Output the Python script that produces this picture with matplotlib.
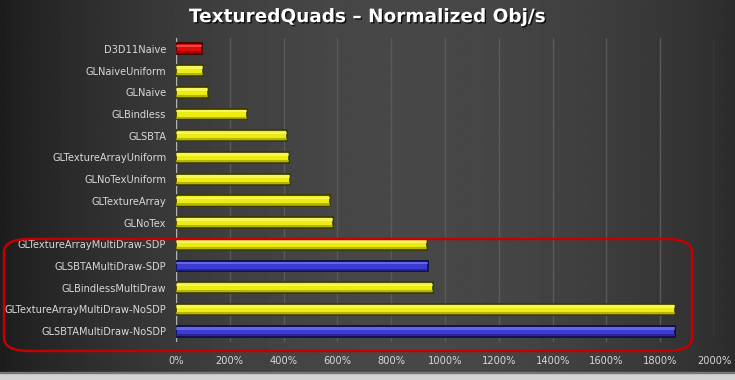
import matplotlib.pyplot as plt
import matplotlib.patheffects as pe
from matplotlib.patches import FancyBboxPatch
import numpy as np

names = ["D3D11Naive", "GLNaiveUniform", "GLNaive", "GLBindless", "GLSBTA",
         "GLTextureArrayUniform", "GLNoTexUniform", "GLTextureArray", "GLNoTex",
         "GLTextureArrayMultiDraw-SDP", "GLSBTAMultiDraw-SDP", "GLBindlessMultiDraw",
         "GLTextureArrayMultiDraw-NoSDP", "GLSBTAMultiDraw-NoSDP"]
values = [98, 100, 119, 264, 413, 420, 424, 572, 584, 933, 937, 955, 1855, 1855]
kinds = ["d3d", "gl", "gl", "gl", "gl", "gl", "gl", "gl", "gl",
         "gl", "sbta", "gl", "gl", "sbta"]
xticks = [0, 200, 400, 600, 800, 1000, 1200, 1400, 1600, 1800, 2000]

face = {"d3d": "#dc0c0c", "gl": "#ecec12", "sbta": "#3c3cd4"}
edge = {"d3d": "#3c0000", "gl": "#3a3a00", "sbta": "#0c0c3a"}
shine = {"d3d": "#ff7070", "gl": "#ffff9a", "sbta": "#8888ff"}
shade = {"d3d": "#980000", "gl": "#a8a800", "sbta": "#22228c"}

fig = plt.figure(figsize=(7.35, 3.8), dpi=100)

# dark gradient background
bg = fig.add_axes([0, 0, 1, 1])
xs = np.linspace(0, 1, 400)
left = 0.11 + 0.17 * np.sin(np.clip(xs / 0.55, 0, 1) * np.pi / 2) ** 0.8
right = 0.17 + 0.11 * np.cos(np.clip((xs - 0.55) / 0.45, 0, 1) * np.pi / 2) ** 0.8
row = np.where(xs < 0.55, left, right)
grad = np.tile(row, (100, 1))
bg.imshow(grad, cmap="gray", vmin=0, vmax=1, aspect="auto", extent=[0, 1, 0, 1])
bg.axhspan(0, 7 / 380, color="#d4d4d4")
bg.axhspan(7 / 380, 8 / 380, color="#777777")
bg.set_xlim(0, 1)
bg.set_ylim(0, 1)
bg.axis("off")

ax = fig.add_axes([176 / 735, 38 / 380, 538 / 735, 304 / 380])
ax.patch.set_alpha(0)
y = np.arange(len(names))
ax.barh(y, values, height=0.5, color=[face[k] for k in kinds],
        edgecolor=[edge[k] for k in kinds], linewidth=1.2, zorder=3)
# bevel: light band near the top, darker band at the bottom
ax.barh(y - 0.13, values, height=0.12, color=[shine[k] for k in kinds],
        linewidth=0, alpha=0.55, zorder=4)
ax.barh(y + 0.17, values, height=0.1, color=[shade[k] for k in kinds],
        linewidth=0, alpha=0.8, zorder=4)
ax.set_ylim(len(names) - 0.5, -0.5)
ax.set_xlim(0, 2000)
ax.set_xticks(xticks)
ax.set_xticklabels([f"{t}%" for t in xticks])
ax.set_yticks(y)
ax.set_yticklabels(names)
ax.tick_params(colors="#d8d8d8", labelsize=7.1, length=0, pad=7)
ax.tick_params(axis="x", pad=10)
ax.grid(axis="x", color="#5a5a5a", linewidth=1, zorder=0)
for s in ax.spines.values():
    s.set_visible(False)
ax.axvline(0, color="#b0b0b0", linewidth=1, zorder=2)

fig.text(0.5, 0.955, "TexturedQuads \u2013 Normalized Obj/s", color="white",
         fontsize=13.3, fontweight="bold", ha="center", va="center",
         path_effects=[pe.withSimplePatchShadow(offset=(1, -1), shadow_rgbFace="black", alpha=0.8)])

box = FancyBboxPatch((4 / 735, 29 / 380), 688 / 735, 112 / 380,
                     boxstyle="round,pad=0,rounding_size=0.035",
                     transform=fig.transFigure, fill=False,
                     edgecolor="#c40000", linewidth=1.8, zorder=10)
fig.patches.append(box)

fig.savefig("out.png", dpi=100)
